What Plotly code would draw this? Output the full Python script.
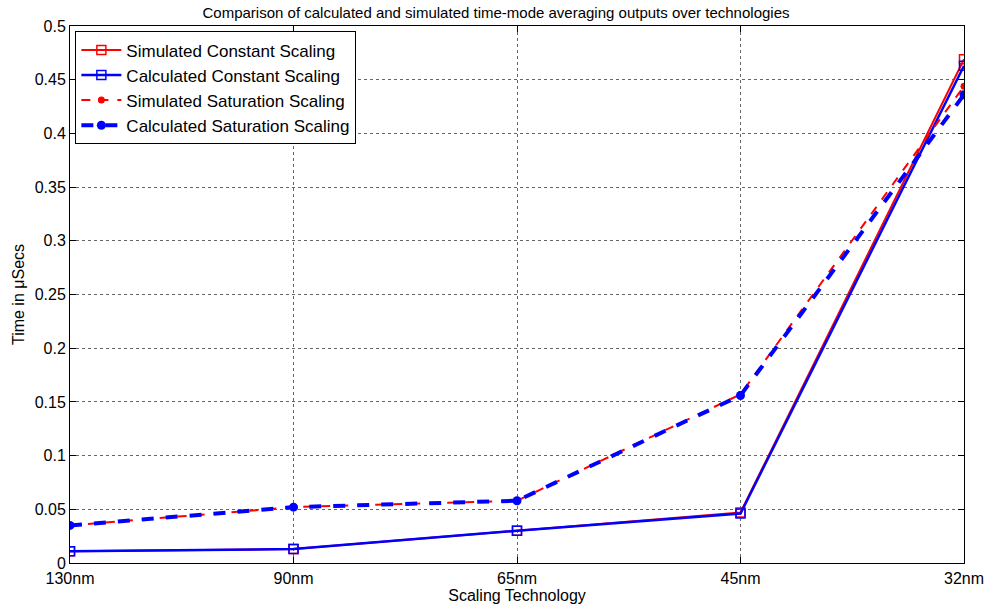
import plotly.graph_objects as go

categories = ["130nm", "90nm", "65nm", "45nm", "32nm"]
sim_const = [0.011, 0.013, 0.030, 0.047, 0.469]
calc_const = [0.011, 0.013, 0.030, 0.046, 0.463]
sim_sat = [0.035, 0.052, 0.058, 0.157, 0.444]
calc_sat = [0.035, 0.052, 0.058, 0.156, 0.436]
y_ticks = [0, 0.05, 0.1, 0.15, 0.2, 0.25, 0.3, 0.35, 0.4, 0.45, 0.5]
y_labels = ["0", "0.05", "0.1", "0.15", "0.2", "0.25", "0.3", "0.35", "0.4", "0.45", "0.5"]

xi = list(range(len(categories)))

fig = go.Figure()
fig.add_trace(go.Scatter(x=xi, y=sim_const, name="Simulated Constant Scaling",
                         mode="lines+markers", line=dict(color="red", width=2),
                         marker=dict(symbol="square-open", size=9, color="red", line=dict(width=1.5))))
fig.add_trace(go.Scatter(x=xi, y=calc_const, name="Calculated Constant Scaling",
                         mode="lines+markers", line=dict(color="blue", width=2.5),
                         marker=dict(symbol="square-open", size=9, color="blue", line=dict(width=1.5))))
fig.add_trace(go.Scatter(x=xi, y=sim_sat, name="Simulated Saturation Scaling",
                         mode="lines+markers", line=dict(color="red", width=2, dash="dash"),
                         marker=dict(symbol="circle", size=7, color="red")))
fig.add_trace(go.Scatter(x=xi, y=calc_sat, name="Calculated Saturation Scaling",
                         mode="lines+markers", line=dict(color="blue", width=4, dash="dash"),
                         marker=dict(symbol="circle", size=9, color="blue")))

fig.update_layout(
    width=992, height=613,
    margin=dict(l=70, r=28, t=26, b=50, autoexpand=False),
    paper_bgcolor="white", plot_bgcolor="white",
    font=dict(family="Liberation Sans, Arial, sans-serif", size=16, color="black"),
    title=dict(text="Comparison of calculated and simulated time-mode averaging outputs over technologies",
               x=0.5, xanchor="center", y=0.979, yanchor="middle", font=dict(size=15)),
    showlegend=True,
    legend=dict(x=0.006, y=0.99, xanchor="left", yanchor="top", bgcolor="white",
                bordercolor="black", borderwidth=1, font=dict(size=17),
                tracegroupgap=0, itemwidth=40),
)
fig.update_xaxes(range=[0, 4], tickvals=xi, ticktext=categories, showgrid=True,
                 gridcolor="rgba(0,0,0,0.6)", griddash="dot", gridwidth=1,
                 showline=True, linecolor="black", linewidth=1, mirror="ticks",
                 ticks="inside", ticklen=6, tickcolor="black", zeroline=False,
                 automargin=False, ticklabelstandoff=1,
                 title=dict(text="Scaling Technology", standoff=2, font=dict(size=16)))
fig.update_yaxes(range=[0, 0.5], tickvals=y_ticks, ticktext=y_labels, showgrid=True,
                 gridcolor="rgba(0,0,0,0.6)", griddash="dot", gridwidth=1,
                 showline=True, linecolor="black", linewidth=1, mirror="ticks",
                 ticks="inside", ticklen=6, tickcolor="black", zeroline=False,
                 automargin=False,
                 title=dict(text="Time in μSecs", standoff=6, font=dict(size=16)))

fig.write_html("out.html", config={"displayModeBar": False},
               post_script="document.body.style.margin='0';")
